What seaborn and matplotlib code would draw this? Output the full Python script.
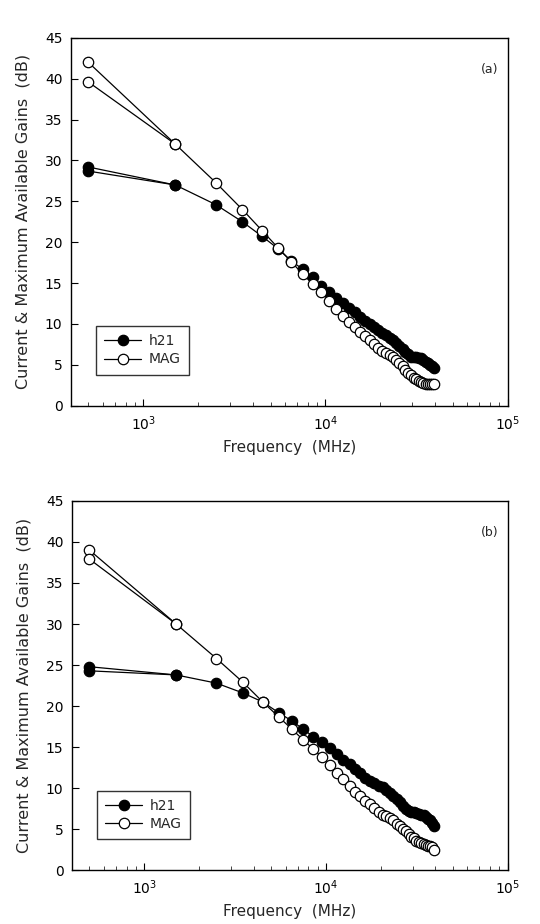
import matplotlib
matplotlib.use("Agg")
import matplotlib.pyplot as plt
import matplotlib.ticker as mticker
import seaborn as sns
import pandas as pd
import numpy as np

# frequency sweep (MHz): 500 MHz start, 1 GHz step
freq = [500, 1500, 2500, 3500, 4500, 5500, 6500, 7500, 8500, 9500,
        10500, 11500, 12500, 13500, 14500, 15500, 16500, 17500, 18500, 19500,
        20500, 21500, 22500, 23500, 24500, 25500, 26500, 27500, 28500, 29500,
        30500, 31500, 32500, 33500, 34500, 35500, 36500, 37500, 38500, 39500]

# panel (a)
h21_a = [28.7, 27.0, 24.6, 22.5, 20.7, 19.2, 17.7, 16.7, 15.7, 14.6,
         13.9, 13.2, 12.5, 11.9, 11.4, 10.9, 10.4, 10.0, 9.6, 9.2,
         8.9, 8.6, 8.3, 8.0, 7.7, 7.3, 6.9, 6.6, 6.3, 6.0,
         5.9, 5.9, 5.8, 5.8, 5.6, 5.4, 5.2, 5.0, 4.8, 4.6]
mag_a = [39.6, 32.0, 27.3, 24.0, 21.4, 19.3, 17.6, 16.1, 14.9, 13.9,
         12.8, 11.8, 11.0, 10.2, 9.6, 9.0, 8.5, 8.0, 7.6, 7.1,
         6.7, 6.5, 6.2, 6.0, 5.6, 5.2, 4.8, 4.4, 4.0, 3.7,
         3.4, 3.2, 3.0, 2.85, 2.75, 2.7, 2.65, 2.6, 2.6, 2.6]
# second sweep start points (a)
freq2 = [500, 1500]
h21_a2 = [29.2, 27.0]
mag_a2 = [42.0, 32.0]

# panel (b)
h21_b = [24.3, 23.8, 22.8, 21.6, 20.5, 19.2, 18.2, 17.2, 16.3, 15.6,
         14.9, 14.2, 13.5, 12.9, 12.3, 11.8, 11.3, 10.9, 10.6, 10.3,
         10.1, 9.8, 9.4, 9.0, 8.7, 8.3, 7.9, 7.5, 7.2, 7.1,
         7.1, 7.0, 6.9, 6.8, 6.7, 6.5, 6.3, 6.1, 5.8, 5.4]
mag_b = [37.9, 30.0, 25.8, 22.9, 20.5, 18.7, 17.2, 15.9, 14.8, 13.8,
         12.8, 11.9, 11.1, 10.3, 9.6, 9.0, 8.5, 8.1, 7.6, 7.1,
         6.8, 6.6, 6.4, 6.1, 5.7, 5.4, 5.1, 4.8, 4.4, 4.1,
         3.9, 3.6, 3.4, 3.3, 3.2, 3.1, 3.0, 2.95, 2.8, 2.5]
h21_b2 = [24.8, 23.8]
mag_b2 = [39.0, 30.0]

yticks = [0, 5, 10, 15, 20, 25, 30, 35, 40, 45]

sns.set_style("ticks")
plt.rcParams['font.family'] = ['DejaVu Sans']


def draw_panel(ax, main_h21, main_mag, start_h21, start_mag, tag):
    df = pd.DataFrame({'freq': freq, 'h21': main_h21, 'MAG': main_mag})
    df2 = pd.DataFrame({'freq': freq2, 'h21': start_h21, 'MAG': start_mag})
    line_kw = dict(color='black', linewidth=0.9, marker='o', markersize=7.5,
                   markeredgecolor='black', markeredgewidth=0.9,
                   estimator=None, ax=ax)
    sns.lineplot(data=df2, x='freq', y='h21', markerfacecolor='black',
                 label='_nolegend_', **line_kw)
    sns.lineplot(data=df, x='freq', y='h21', markerfacecolor='black',
                 label='h21', **line_kw)
    sns.lineplot(data=df2, x='freq', y='MAG', markerfacecolor='white',
                 label='_nolegend_', **line_kw)
    sns.lineplot(data=df, x='freq', y='MAG', markerfacecolor='white',
                 label='MAG', **line_kw)

    ax.set_xscale('log')
    ax.set_xlim(400, 1e5)
    ax.set_ylim(0, 45)
    ax.set_yticks(yticks)
    ax.xaxis.set_major_locator(mticker.LogLocator(base=10))
    ax.xaxis.set_minor_locator(mticker.LogLocator(base=10, subs=np.arange(2, 10)))
    ax.xaxis.set_minor_formatter(mticker.NullFormatter())
    ax.tick_params(axis='both', which='major', direction='in', length=5,
                   width=0.8, labelsize=10, pad=6, colors='black')
    ax.tick_params(axis='x', which='minor', direction='in', length=3, width=0.6)
    for s in ax.spines.values():
        s.set_visible(True)
        s.set_linewidth(1.0)
        s.set_color('black')

    ax.set_xlabel('Frequency  (MHz)', fontsize=11, labelpad=5)
    ax.set_ylabel('Current & Maximum Available Gains  (dB)', fontsize=11.5, labelpad=10)
    ax.text(0.959, 0.913, tag, transform=ax.transAxes, fontsize=9,
            ha='center', va='center')

    leg = ax.legend(loc='lower left', bbox_to_anchor=(0.057, 0.084),
                    borderaxespad=0, frameon=True, fancybox=False,
                    fontsize=10, handlelength=2.7, handletextpad=0.5,
                    borderpad=0.6, labelspacing=0.3)
    leg.get_frame().set_edgecolor('black')
    leg.get_frame().set_linewidth(1.0)


fig = plt.figure(figsize=(5.4, 9.24), dpi=100)
ax_a = fig.add_axes([0.131, 0.561, 0.809, 0.398])
ax_b = fig.add_axes([0.133, 0.058, 0.807, 0.400])

draw_panel(ax_a, h21_a, mag_a, h21_a2, mag_a2, '(a)')
draw_panel(ax_b, h21_b, mag_b, h21_b2, mag_b2, '(b)')

fig.savefig('out.png', dpi=100)
